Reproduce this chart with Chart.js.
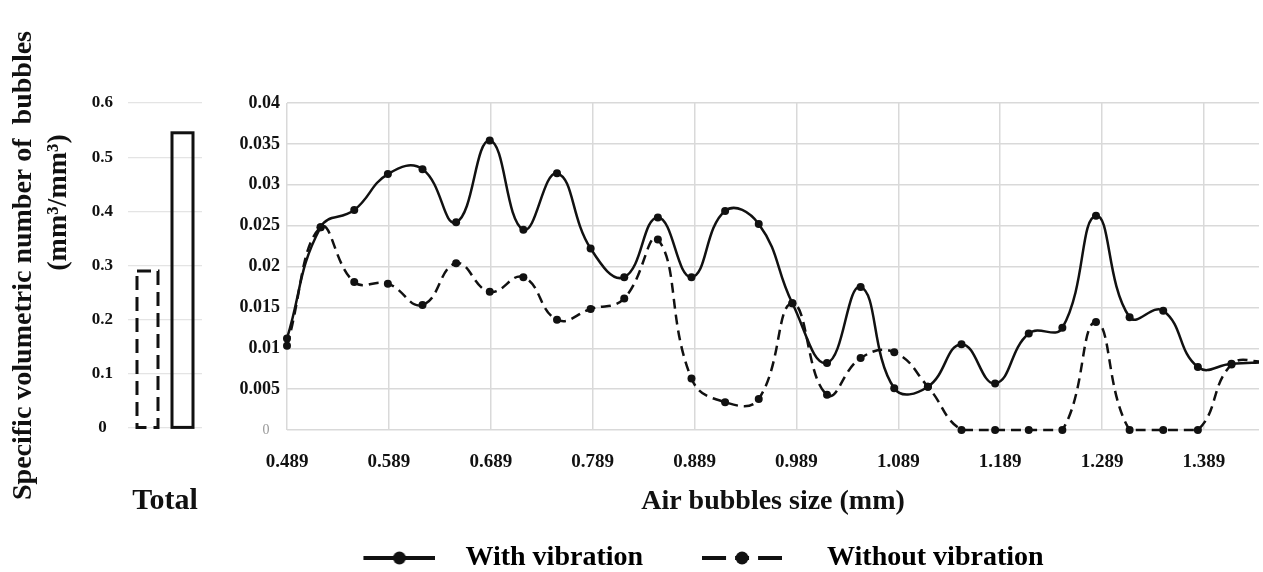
<!DOCTYPE html>
<html>
<head>
<meta charset="utf-8">
<script src="https://cdn.jsdelivr.net/npm/chart.js@4.4.1/dist/chart.umd.min.js"></script>
<style>
  html, body { margin: 0; padding: 0; background: #fff; overflow: hidden; }
  #wrap { position: relative; width: 1263px; height: 572px; overflow: hidden; }
  #mainChart { position: absolute; left: 90px; top: 0; }
  #totalChart { position: absolute; left: 0; top: 0; }
</style>
</head>
<body>
<div id="wrap">
  <canvas id="mainChart" width="1173" height="582"></canvas>
  <canvas id="totalChart" width="215" height="572"></canvas>
</div>
<script>
// bubble sizes (mm) of each measured class
const bubbleSizes = [0.489, 0.522, 0.555, 0.588, 0.622, 0.655, 0.688, 0.721, 0.754, 0.787,
                     0.820, 0.853, 0.886, 0.919, 0.952, 0.985, 1.019, 1.052, 1.085, 1.118,
                     1.151, 1.184, 1.217, 1.250, 1.283, 1.316, 1.349, 1.383, 1.416, 1.449];

// specific volumetric number of bubbles (mm3/mm3)
const withVibration = [0.0112, 0.0248, 0.0269, 0.0313, 0.0319, 0.0254, 0.0354, 0.0245, 0.0314, 0.0222,
                       0.0187, 0.0260, 0.0187, 0.0268, 0.0252, 0.0155, 0.0082, 0.0175, 0.0051, 0.0053,
                       0.0105, 0.0057, 0.0118, 0.0125, 0.0262, 0.0138, 0.0146, 0.0077, 0.0081, 0.0083];
const withoutVibration = [0.0103, 0.0248, 0.0181, 0.0179, 0.0153, 0.0204, 0.0169, 0.0187, 0.0135, 0.0148,
                          0.0161, 0.0233, 0.0063, 0.0034, 0.0038, 0.0155, 0.0043, 0.0088, 0.0095, 0.0053,
                          0, 0, 0, 0, 0.0132, 0, 0, 0, 0.0080, 0.0084];

// x axis tick labels
const xTickLabels = ['0.489', '0.589', '0.689', '0.789', '0.889', '0.989', '1.089', '1.189', '1.289', '1.389'];
const xTickValues = xTickLabels.map(Number);

// totals (left panel)
const totalCategories = ['Total'];
const totalWithout = [0.29];
const totalWith = [0.545];

const SERIF = '"Liberation Serif", "Times New Roman", serif';
const INK = '#111';
const GRID = '#d9d9d9';

// small canvas images used as legend symbols (line + dot)
function makeMarker(width, dashed, start) {
    const c = document.createElement('canvas');
    c.width = width;
    c.height = 16;
    const g = c.getContext('2d');
    g.fillStyle = INK;
    g.strokeStyle = INK;
    g.lineWidth = 4;
    const w = width - start;
    const segs = dashed ? [[0, 24], [33, 47], [56, 80]] : [[0, w]];
    segs.forEach(([a, b]) => {
        g.beginPath();
        g.moveTo(start + a, 8);
        g.lineTo(start + b, 8);
        g.stroke();
    });
    g.beginPath();
    g.arc(start + w / 2, 8, 6.5, 0, Math.PI * 2);
    g.fill();
    return c;
}
const solidMarker = makeMarker(110, false, 38);
const dashedMarker = makeMarker(80, true, 0);

const isZeroTick = (ctx) => ctx.tick && ctx.tick.value === 0;

// main line chart
new Chart(document.getElementById('mainChart'), {
    type: 'line',
    data: {
        datasets: [{
            label: 'With vibration',
            data: bubbleSizes.map((s, i) => ({x: s, y: withVibration[i]})),
            borderColor: INK,
            backgroundColor: INK,
            borderWidth: 2.5,
            pointRadius: 4,
            pointBorderWidth: 0,
            pointBackgroundColor: INK,
            tension: 0.45,
            clip: {left: 8, top: 8, right: 0, bottom: 8},
        }, {
            label: 'Without vibration',
            data: bubbleSizes.map((s, i) => ({x: s, y: withoutVibration[i]})),
            borderColor: INK,
            backgroundColor: INK,
            borderWidth: 2.5,
            borderDash: [10, 6],
            pointRadius: 4,
            pointBorderWidth: 0,
            pointBackgroundColor: INK,
            tension: 0.45,
            clip: {left: 8, top: 8, right: 0, bottom: 8},
        }],
    },
    options: {
        responsive: false,
        animation: false,
        layout: {padding: {top: 103, left: 0, right: 0, bottom: 0}},
        plugins: {
            tooltip: {enabled: false},
            legend: {
                position: 'bottom',
                labels: {
                    usePointStyle: true,
                    pointStyleWidth: 142,
                    padding: 28,
                    color: INK,
                    font: {family: SERIF, weight: 'bold', size: 28},
                    generateLabels: () => [
                        {text: 'With vibration', pointStyle: solidMarker, fillStyle: INK, strokeStyle: INK, lineWidth: 0, hidden: false, datasetIndex: 0},
                        {text: 'Without vibration', pointStyle: dashedMarker, fillStyle: INK, strokeStyle: INK, lineWidth: 0, hidden: false, datasetIndex: 1},
                    ],
                },
            },
        },
        scales: {
            x: {
                type: 'linear',
                min: 0.489,
                max: 1.443,
                afterBuildTicks: (scale) => { scale.ticks = xTickValues.map(v => ({value: v})); },
                afterFit: (scale) => { scale.height = 86; },
                grid: {color: GRID, lineWidth: 1.5, drawTicks: false},
                border: {display: false},
                ticks: {
                    padding: 21,
                    color: INK,
                    autoSkip: false,
                    maxRotation: 0,
                    font: {family: SERIF, weight: 'bold', size: 19},
                    callback: (v, i) => xTickLabels[i],
                },
                title: {
                    display: true,
                    text: 'Air bubbles size (mm)',
                    color: INK,
                    font: {family: SERIF, weight: 'bold', size: 28, lineHeight: 1},
                    padding: {top: 0, bottom: 0},
                },
            },
            y: {
                min: 0,
                max: 0.04,
                afterFit: (scale) => { scale.width = 197; },
                grid: {color: GRID, lineWidth: 1.5, drawTicks: false},
                border: {display: false},
                ticks: {
                    stepSize: 0.005,
                    padding: 7,
                    color: (ctx) => isZeroTick(ctx) ? '#999' : INK,
                    font: (ctx) => isZeroTick(ctx)
                        ? {family: SERIF, weight: 'normal', size: 14}
                        : {family: SERIF, weight: 'bold', size: 18},
                    callback: (v) => v === 0 ? '0   ' : String(+v.toFixed(3)),
                },
            },
        },
    },
});

// outline bars: stroke each bar box, dashed where asked
const outlineBars = {
    id: 'outlineBars',
    afterDatasetsDraw(chart) {
        const ctx = chart.ctx;
        chart.data.datasets.forEach((ds, i) => {
            chart.getDatasetMeta(i).data.forEach(bar => {
                const {x, y, base, width} = bar.getProps(['x', 'y', 'base', 'width'], true);
                ctx.save();
                ctx.strokeStyle = INK;
                ctx.lineWidth = 3;
                ctx.setLineDash(ds.outlineDash || []);
                ctx.strokeRect(x - width / 2, y, width, base - y);
                ctx.restore();
            });
        });
    },
};

// left panel: totals
new Chart(document.getElementById('totalChart'), {
    type: 'bar',
    data: {
        labels: totalCategories,
        datasets: [{
            label: 'Without vibration',
            data: totalWithout,
            backgroundColor: 'rgba(0,0,0,0)',
            borderWidth: 0,
            outlineDash: [14, 7],
            categoryPercentage: 0.946,
            barPercentage: 0.6,
        }, {
            label: 'With vibration',
            data: totalWith,
            backgroundColor: 'rgba(0,0,0,0)',
            borderWidth: 0,
            categoryPercentage: 0.946,
            barPercentage: 0.6,
        }],
    },
    plugins: [outlineBars],
    options: {
        responsive: false,
        animation: false,
        layout: {padding: {top: 103, left: 0, right: 13, bottom: 0}},
        plugins: {tooltip: {enabled: false}, legend: {display: false}},
        scales: {
            x: {
                afterFit: (scale) => {
                    scale.height = 144;
                    scale.paddingLeft = 0;
                    scale.paddingRight = 0;
                },
                grid: {display: false},
                border: {display: false},
                ticks: {padding: 47, color: INK, font: {family: SERIF, weight: 'bold', size: 30}},
            },
            y: {
                min: 0,
                max: 0.6,
                afterFit: (scale) => { scale.width = 128; },
                grid: {color: '#e4e4e4', lineWidth: 1.2, drawTicks: false},
                border: {display: false},
                ticks: {
                    stepSize: 0.1,
                    padding: 15,
                    crossAlign: 'center',
                    color: INK,
                    font: {family: SERIF, weight: 'bold', size: 17},
                    callback: (v) => String(+v.toFixed(1)),
                },
                title: {
                    display: true,
                    text: ['Specific volumetric number of  bubbles', '                  (mm\u00b3/mm\u00b3)'],
                    color: INK,
                    font: {family: SERIF, weight: 'bold', size: 28, lineHeight: 1.25},
                    padding: {top: 6, bottom: 0},
                },
            },
        },
    },
});
</script>
</body>
</html>
